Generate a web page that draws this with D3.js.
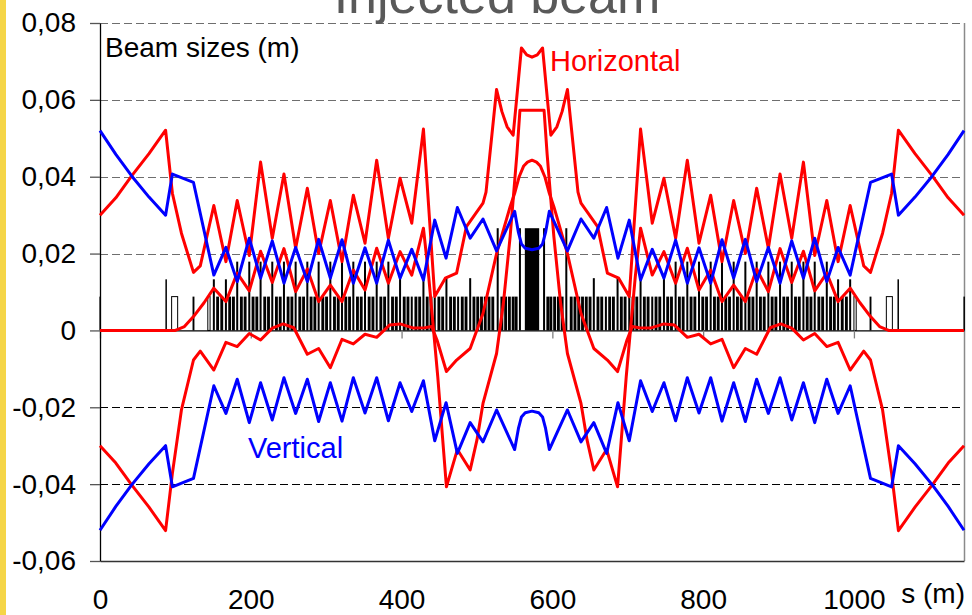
<!DOCTYPE html>
<html>
<head>
<meta charset="utf-8">
<script src="https://cdn.jsdelivr.net/npm/d3@7"></script>
<style>
  body { margin: 0; background: #fff; }
  svg { display: block; font-family: "Liberation Sans", Arial, sans-serif; }
</style>
</head>
<body>
<div id="chart"></div>
<script>
// ---- data (s in m, sizes in m) ----
const yTicks = [0.08, 0.06, 0.04, 0.02, 0, -0.02, -0.04, -0.06];
const xTicks = [0, 200, 400, 600, 800, 1000];

// vertical beam size (plotted as +/-)
const sigmaY = [[0,.052],[21,.0458],[42,.0402],[65,.0347],[87,.030],[96,.0407],[124,.0385],[151,.0144],[167,.0216],[182,.0127],
  [198,.024],[213,.0136],[228.5,.0233],[244,.0123],[259.5,.0216],[275,.0127],[290,.0237],[305.5,.0136],[321,.0236],[336,.0123],
  [351.5,.0215],[367,.0123],[382.5,.0235],[398,.0136],[413.5,.0211],[429,.0131],[444,.0287],[459,.0188],[474,.032],[491,.024],
  [508,.029],[526,.0207],[550,.031],[555,.0255],[559,.0225],[564,.0214],[573,.021],
  [582,.0214],[587,.0225],[591,.0255],[596,.031],[620,.0207],[638,.029],[655,.024],[672,.032],[687,.0188],[702,.0287],
  [717,.0131],[732.5,.0211],[748,.0136],[763.5,.0235],[779,.0123],[794.5,.0215],[810,.0123],[825,.0236],[840.5,.0136],[856,.0237],
  [871,.0127],[886.5,.0216],[902,.0123],[917.5,.0233],[933,.0136],[948,.024],[964,.0127],[979,.0216],[995,.0144],[1022,.0385],
  [1050,.0407],[1059,.030],[1081,.0347],[1104,.0402],[1125,.0458],[1146,.052]];

// horizontal: upper curve
const hxUpper = [[0,.030],[21,.0345],[42,.0402],[65,.046],[87,.0521],[96,.0357],[108,.0253],[124,.0151],[133,.0168],[151,.0325],
  [167,.0179],[182,.0338],[198,.0195],[213,.0438],[228.5,.024],[244,.0407],[259.5,.0214],[275,.037],[290,.020],[305.5,.0338],
  [321,.0179],[336,.0352],[351.5,.0227],[367,.0443],[382.5,.024],[398,.0396],[413.5,.0279],[429,.0524],[444,.0088],[458,.0136],
  [473,.0149],[486,.027],[508,.0331],[512,.036],[526,.0627],[533,.057],[540,.053],[548,.0508],[552.5,.060],[559,.0735],
  [566,.0717],[573,.0711],[580,.0717],[587,.0735],[593.5,.060],[598,.0508],[606,.053],[613,.057],[620,.0627],[634,.036],
  [638,.0331],[660,.027],[673,.0149],[688,.0136],[702,.0088],[717,.0524],[732.5,.0279],[748,.0396],[763.5,.024],[779,.0443],
  [794.5,.0227],[810,.0352],[825,.0179],[840.5,.0338],[856,.020],[871,.037],[886.5,.0214],[902,.0407],[917.5,.024],[933,.0438],
  [948,.0195],[964,.0338],[979,.0179],[995,.0325],[1013,.0168],[1022,.0151],[1038,.0253],[1050,.0357],[1059,.0521],[1081,.046],
  [1104,.0402],[1125,.0345],[1146,.030]];

// horizontal: middle (orbit) curve
const hxOrbit = [[0,0],[100,0],[112,.001],[124,.0036],[138,.0072],[151,.011],[167,.0075],[182,.0149],[198,.0103],[213,.0206],
  [228.5,.0125],[244,.0213],[259.5,.0101],[275,.016],[290,.0075],[305.5,.0118],[321,.0075],[336,.0157],[351.5,.0105],[367,.0214],
  [382.5,.0123],[398,.0205],[413.5,.0144],[429,.0266],[436,.014],[448,-.012],[459.5,-.0407],[474,-.031],[491,-.0363],[500,-.0285],
  [508,-.019],[526,-.006],[535,.007],[544,.0244],[553,.046],[557,.0573],[589,.0573],[593,.046],[602,.0244],[611,.007],
  [620,-.006],[638,-.019],[646,-.0285],[655,-.0363],[672,-.031],[686.5,-.0407],[698,-.012],[710,.014],[717,.0266],[732.5,.0144],
  [748,.0205],[763.5,.0123],[779,.0214],[794.5,.0105],[810,.0157],[825,.0075],[840.5,.0118],[856,.0075],[871,.016],[886.5,.0101],
  [902,.0213],[917.5,.0125],[933,.0206],[948,.0103],[964,.0149],[979,.0075],[995,.011],[1008,.0072],[1022,.0036],[1034,.001],
  [1046,0],[1146,0]];

// horizontal: lower curve
const hxLower = [[0,-.030],[21,-.0345],[42,-.0402],[65,-.046],[87,-.0521],[96,-.0372],[108,-.0207],[124,-.0077],[133,-.0054],
  [151,-.0103],[167,-.0031],[182,-.0042],[198,-.0008],[213,-.0025],[228.5,.0006],[243,.0017],[257,.0007],[275,-.0062],[290,-.0047],
  [305.5,-.0097],[321,-.0023],[336,-.0035],[351.5,-.001],[367,-.0018],[384,.0014],[398,.0017],[416,.0006],[431,.0007],[440,.001],
  [447,-.0025],[459.5,-.0107],[473,-.0077],[491,-.0047],[508,.0044],[526,.020],[544,.0322],[550,.0357],[556,.040],[562,.0428],
  [567,.0438],[573,.0443],[579,.0438],[584,.0428],[590,.040],[596,.0357],[602,.0322],[620,.020],[638,.0044],[655,-.0047],
  [673,-.0077],[686.5,-.0107],[699,-.0025],[706,.001],[715,.0007],[730,.0006],[748,.0017],[762,.0014],[779,-.0018],[794.5,-.001],
  [810,-.0035],[825,-.0023],[840.5,-.0097],[856,-.0047],[871,-.0062],[889,.0007],[903,.0017],[917.5,.0006],[933,-.0025],[948,-.0008],
  [964,-.0042],[979,-.0031],[995,-.0103],[1013,-.0054],[1022,-.0077],[1038,-.0207],[1050,-.0372],[1059,-.0521],[1081,-.046],
  [1104,-.0402],[1125,-.0345],[1146,-.030]];

// lattice: quadrupoles (position, height)
const quadS = [151,167,182,198,213,228.5,244,259.5,275,290,305.5,321,336,351.5,367,382.5,398,413.5,429,444,459.5,475,491,527.5,557,
  589,618.5,655,671,686.5,702,717,732.5,748,763.5,779,794.5,810,825,840.5,856,871,886.5,902,917.5,933,948,964,979,995];
const quadH = [.0133,.0133,.0179,.0179,.0179,.0179,.0179,.0179,.0179,.0179,.0179,.0179,.0179,.0179,.0179,.0179,.0136,.0088,.0136,.0088,.0136,.0088,.0136,.0266,.0266,
  .0266,.0266,.0136,.0088,.0136,.0088,.0136,.0088,.0136,.0179,.0179,.0179,.0179,.0179,.0179,.0179,.0179,.0179,.0179,.0179,.0179,.0179,.0179,.0133,.0133];
// lattice: dipoles (centres)
const dipoleS = [156,161.5,172,177,187.5,192.5,203,208,218.5,223.5,234,239,249.5,254.5,265,270,280,285,295.5,300.5,311,316,
  326,331,341.5,346.5,357,362,372.5,377.5,388,393,403.5,408.5,419,424,434,439,449.5,454.5,465,470,480.5,485.5,
  496,501,506,511,516,521,533,538,543,548,552,
  594,598,603,608,613,625,630,635,640,645,650,
  660.5,665.5,676,681,691.5,696.5,707,712,722,727,737.5,742.5,753,758,768.5,773.5,784,789,799.5,804.5,815,820,830,835,
  845.5,850.5,861,866,876,881,891.5,896.5,907,912,922.5,927.5,938,943,953.5,958.5,969,974,984.5,990];
const dipoleLen = 3.8, dipoleH = .0088;
// other elements: position, length, height, kind
const otherS = [0, 87.5, 99, 124, 144.5, 573, 1001.5, 1022, 1047, 1058.5, 1146];
const otherLen = [1.5, 1.5, 8, 2.5, 3, 19, 3, 2.5, 8, 1.5, 1.5];
const otherH = [.0088, .0133, .0088, .0088, .0088, .0266, .0088, .0088, .0088, .0133, .0088];
const otherKind = ["bar","bar","box","bar","box","bar","box","bar","box","bar","bar"];

// ---- chart ----
const width = 972, height = 615;
const svg = d3.select("#chart").append("svg")
  .attr("width", width).attr("height", height);

svg.append("rect").attr("width", width).attr("height", height).attr("fill", "#fff");
svg.append("rect").attr("x", 0).attr("y", 0).attr("width", 6).attr("height", height).attr("fill", "#f5d547");

const x = d3.scaleLinear().domain([0, 1146]).range([100, 964]);
const y = d3.scaleLinear().domain([-0.06, 0.08]).range([561, 23]);

const loc = d3.formatLocale({decimal: ",", thousands: ".", grouping: [3], currency: ["", ""], minus: "-"});
const fmt = d => d === 0 ? "0" : loc.format(".2f")(d);

// grid
svg.append("g").selectAll("line")
  .data(yTicks.filter(d => d !== 0 && d !== -0.06))
  .join("line")
    .attr("x1", 100).attr("x2", 964)
    .attr("y1", d => Math.round(y(d)) + 0.5).attr("y2", d => Math.round(y(d)) + 0.5)
    .attr("stroke", d => d > 0 ? "#6e6e6e" : "#000")
    .attr("stroke-width", 1.2)
    .attr("stroke-dasharray", "8,4");

// right border
svg.append("line").attr("x1", 964.5).attr("x2", 964.5).attr("y1", 23).attr("y2", 561)
  .attr("stroke", "#8a8a8a").attr("stroke-width", 1.5);

// lattice
const lat = svg.append("g");
const pxLen = l => x(l) - x(0);
lat.selectAll(".dip").data(dipoleS).join("rect")
  .attr("class", "dip")
  .attr("x", d => x(d - dipoleLen / 2)).attr("width", pxLen(dipoleLen))
  .attr("y", y(dipoleH)).attr("height", y(0) - y(dipoleH))
  .attr("fill", "#000");
lat.selectAll(".quad").data(quadS).join("rect")
  .attr("class", "quad")
  .attr("x", d => x(d) - 1).attr("width", 2)
  .attr("y", (d, i) => y(quadH[i])).attr("height", (d, i) => y(0) - y(quadH[i]))
  .attr("fill", "#000");
lat.selectAll(".oth").data(otherS).join("rect")
  .attr("class", "oth")
  .attr("x", (d, i) => x(d - otherLen[i] / 2))
  .attr("width", (d, i) => Math.max(1.5, pxLen(otherLen[i])))
  .attr("y", (d, i) => y(otherH[i])).attr("height", (d, i) => y(0) - y(otherH[i]))
  .attr("fill", (d, i) => otherKind[i] === "box" ? "#fff" : "#000")
  .attr("stroke", (d, i) => otherKind[i] === "box" ? "#000" : "none")
  .attr("stroke-width", 1);

// zero axis with small ticks
const zeroAxis = svg.append("g")
  .attr("transform", `translate(0,${y(0)})`)
  .call(d3.axisBottom(x).tickValues(xTicks).tickSize(8).tickSizeOuter(0).tickFormat(""));
zeroAxis.select(".domain").attr("stroke", "#000").attr("stroke-width", 1.3);
zeroAxis.selectAll(".tick line").attr("stroke", "#808080").attr("stroke-width", 1.3);

// bottom axis (labels)
const xAxis = svg.append("g")
  .attr("transform", `translate(0,561)`)
  .call(d3.axisBottom(x).tickValues(xTicks).tickSize(0).tickSizeOuter(0).tickPadding(28).tickFormat(d3.format("d")));
xAxis.select(".domain").attr("stroke", "#333").attr("stroke-width", 1.5);
xAxis.selectAll("text").style("font-size", "28px").style("font-family", "Liberation Sans, Arial, sans-serif").attr("fill", "#000");

// y axis
const yAxis = svg.append("g")
  .attr("transform", "translate(100,0)")
  .call(d3.axisLeft(y).tickValues(yTicks).tickSize(10).tickSizeOuter(0).tickPadding(14).tickFormat(fmt));
yAxis.select(".domain").attr("stroke", "#000").attr("stroke-width", 1.3);
yAxis.selectAll(".tick line").attr("stroke", "#555").attr("stroke-width", 1.3);
yAxis.selectAll("text").style("font-size", "28px").style("font-family", "Liberation Sans, Arial, sans-serif").attr("fill", "#000");

// curves
const line = d3.line().x(d => x(d[0])).y(d => y(d[1]));
const curves = svg.append("g").attr("fill", "none").attr("stroke-width", 3).attr("stroke-linejoin", "round");
[hxUpper, hxOrbit, hxLower].forEach(c => {
  curves.append("path").datum(c).attr("d", line).attr("stroke", "#ff0000");
});
curves.append("path").datum(sigmaY).attr("d", line).attr("stroke", "#0000ff");
curves.append("path").datum(sigmaY.map(d => [d[0], -d[1]])).attr("d", line).attr("stroke", "#0000ff");

// texts
svg.append("text").attr("x", 497).attr("y", 13).attr("text-anchor", "middle")
  .style("font-size", "52px").attr("fill", "#595959").text("Injected beam");
svg.append("text").attr("x", 105).attr("y", 57)
  .style("font-size", "28px").attr("fill", "#000").text("Beam sizes (m)");
svg.append("text").attr("x", 550).attr("y", 71)
  .style("font-size", "29px").attr("fill", "#ff0000").text("Horizontal");
svg.append("text").attr("x", 248).attr("y", 458)
  .style("font-size", "29px").attr("fill", "#0000ff").text("Vertical");
svg.append("text").attr("x", 965).attr("y", 603).attr("text-anchor", "end")
  .style("font-size", "28px").attr("fill", "#000").text("s (m)");
</script>
</body>
</html>
